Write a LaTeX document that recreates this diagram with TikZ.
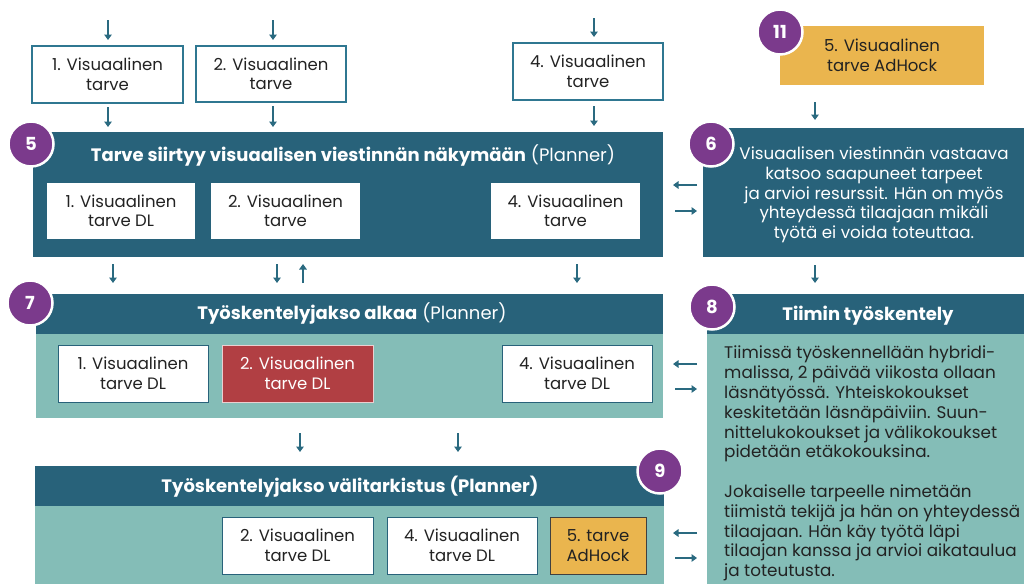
\documentclass[tikz,border=0pt]{standalone}
\usepackage{fontspec}
\setmainfont{Poppins}
\usetikzlibrary{arrows.meta,calc}
\definecolor{dteal}{HTML}{28627A}
\definecolor{lteal}{HTML}{84BDB7}
\definecolor{bpurple}{HTML}{7B3A8C}
\definecolor{bred}{HTML}{B13F43}
\definecolor{byellow}{HTML}{EAB54E}
\definecolor{txt}{HTML}{222222}
\definecolor{arrc}{HTML}{2A6A80}
\definecolor{cardline}{HTML}{2F7791}
\begin{document}
\begin{tikzpicture}[x=1pt,y=-1pt,
  arr/.style={draw=arrc, line width=1.5pt, -{Triangle[width=7.5pt,length=5.5pt]}},
  panel/.style={anchor=north west, inner sep=0pt, outer sep=0pt},
  card/.style={anchor=north west, inner sep=0pt, outer sep=0pt, align=center,
    font=\fontsize{16.5}{19.5}\selectfont, text=txt, fill=white},
  title/.style={text=white, font=\fontsize{18}{20}\selectfont, inner sep=0pt},
  badge/.style={circle, fill=bpurple, draw=white, line width=2.5pt, minimum size=45pt,
    inner sep=0pt, text=white, font=\fontsize{18}{18}\selectfont\bfseries},
  wtext/.style={text=white, align=center, font=\fontsize{16.7}{19.7}\selectfont, inner sep=0pt},
  btext/.style={text=txt, align=left, font=\fontsize{16.8}{19.8}\selectfont, inner sep=0pt}
]
\useasboundingbox (0,0) rectangle (1024,584);
\fill[white] (0,0) rectangle (1024,584);

% columns and rows
\coordinate (c1) at (108,0);
\coordinate (c2) at (273,0);
\coordinate (c3) at (594,0);
\coordinate (c4) at (815,0);
\coordinate (d1) at (113,0);
\coordinate (d2) at (277,0);
\coordinate (d3) at (303,0);
\coordinate (d4) at (577,0);
\coordinate (e1) at (300,0);
\coordinate (e2) at (458,0);
\coordinate (rA) at (0,185);
\coordinate (rB) at (0,211);
\coordinate (rC) at (0,364);
\coordinate (rD) at (0,389);
\coordinate (rE) at (0,533);
\coordinate (rF) at (0,558);
\coordinate (s1) at (108,20);
\coordinate (s2) at (273,20);
\coordinate (s3) at (594,18);

% top cards
\node[card, draw=cardline, line width=1.2pt, minimum width=151pt, minimum height=57pt] (t1) at (32,46) {1. Visuaalinen\\tarve};
\node[card, draw=cardline, line width=1.2pt, minimum width=150pt, minimum height=56pt] (t2) at (196,46) {2. Visuaalinen\\tarve};
\node[card, draw=cardline, line width=1.2pt, minimum width=150pt, minimum height=57pt] (t4) at (513,43) {4. Visuaalinen\\tarve};
\node[card, fill=byellow, minimum width=204pt, minimum height=59pt] (t5) at (780,26) {5. Visuaalinen\\tarve AdHock};

% box 5
\node[panel, fill=dteal, minimum width=630pt, minimum height=125pt] (box5) at (33,132) {};
\node[title] (h5) at (353,155) {\textbf{Tarve siirtyy visuaalisen viestinnän näkymään} (Planner)};
\node[card, minimum width=148pt, minimum height=56pt] (p1) at (47,183) {1. Visuaalinen\\tarve DL};
\node[card, minimum width=149pt, minimum height=56pt] (p2) at (211,183) {2. Visuaalinen\\tarve};
\node[card, minimum width=149pt, minimum height=56pt] (p4) at (491,183) {4. Visuaalinen\\tarve};

% box 6
\node[panel, fill=dteal, minimum width=321pt, minimum height=129pt] (box6) at (703,128) {};
\node[wtext] (x6) at (874,195) {Visuaalisen viestinnän vastaava\\katsoo saapuneet tarpeet\\ja arvioi resurssit. Hän on myös\\yhteydessä tilaajaan mikäli\\työtä ei voida toteuttaa.};

% box 7
\node[panel, fill=lteal, minimum width=627pt, minimum height=124pt] (box7) at (36,294) {};
\node[panel, fill=dteal, minimum width=627pt, minimum height=40pt] (box7h) at (36,294) {};
\node[title] (h7) at (352,313) {\textbf{Työskentelyjakso alkaa} (Planner)};
\node[card, draw=dteal, line width=1pt, minimum width=150pt, minimum height=57pt] (q1) at (58,345) {1. Visuaalinen\\tarve DL};
\node[card, fill=bred, text=white, draw=white!75!bred, line width=1pt, minimum width=151pt, minimum height=57pt] (q2) at (222,345) {2. Visuaalinen\\tarve DL};
\node[card, draw=dteal, line width=1pt, minimum width=150pt, minimum height=57pt] (q4) at (502,345) {4. Visuaalinen\\tarve DL};

% box 8
\node[panel, fill=lteal, minimum width=317pt, minimum height=290pt] (box8) at (707,294) {};
\node[panel, fill=dteal, minimum width=317pt, minimum height=40pt] (box8h) at (707,294) {};
\node[title] (h8) at (868,316) {\textbf{Tiimin työskentely}};
\node[btext, anchor=north west] (x8) at (724,346) {Tiimissä työskennellään hybridi-\\malissa, 2 päivää viikosta ollaan\\läsnätyössä. Yhteiskokoukset\\keskitetään läsnäpäiviin. Suun-\\nittelukokoukset ja välikokoukset\\pidetään etäkokouksina.\\[19.8pt]Jokaiselle tarpeelle nimetään\\tiimistä tekijä ja hän on yhteydessä\\tilaajaan. Hän käy työtä läpi\\tilaajan kanssa ja arvioi aikataulua\\ja toteutusta.};

% box 9
\node[panel, fill=lteal, minimum width=629pt, minimum height=118pt] (box9) at (35,466) {};
\node[panel, fill=dteal, minimum width=629pt, minimum height=40pt] (box9h) at (35,466) {};
\node[title] (h9) at (350,487) {\textbf{Työskentelyjakso välitarkistus (Planner)}};
\node[card, draw=dteal, line width=1pt, minimum width=151pt, minimum height=57pt] (r2) at (222,517) {2. Visuaalinen\\tarve DL};
\node[card, draw=dteal, line width=1pt, minimum width=150pt, minimum height=57pt] (r4) at (387,517) {4. Visuaalinen\\tarve DL};
\node[card, fill=byellow, draw=black!75, line width=1pt, minimum width=96pt, minimum height=57pt] (r5) at (550,517) {5. tarve\\AdHock};

% badges
\node[badge] (n5) at (31,144) {5};
\node[badge] (n6) at (711,144) {6};
\node[badge] (n7) at (30,303) {7};
\node[badge] (n8) at (712,307) {8};
\node[badge] (n9) at (660,471) {9};
\node[badge] (n11) at (780,32) {11};

% arrows: inputs
\draw[arr, shorten >=6pt] (s1) -- (t1.north -| s1);
\draw[arr, shorten >=6pt] (s2) -- (t2.north -| s2);
\draw[arr, shorten >=6pt] (s3) -- (t4.north -| s3);
% cards to box 5
\draw[arr, shorten <=4pt, shorten >=5pt] (t1.south -| c1) -- (box5.north -| c1);
\draw[arr, shorten <=4pt, shorten >=5pt] (t2.south -| c2) -- (box5.north -| c2);
\draw[arr, shorten <=6pt, shorten >=6pt] (t4.south -| c3) -- (box5.north -| c3);
% AdHock to box 6 to box 8
\draw[arr, shorten <=17pt, shorten >=8pt] (t5.south -| c4) -- (box6.north -| c4);
\draw[arr, shorten <=8pt, shorten >=11pt] (box6.south -| c4) -- (box8.north -| c4);
% box 5 <-> box 6
\draw[arr, shorten <=6pt, shorten >=10pt] (box6.west |- rA) -- (box5.east |- rA);
\draw[arr, shorten <=12pt, shorten >=6pt] (box5.east |- rB) -- (box6.west |- rB);
% box 5 -> box 7
\draw[arr, shorten <=7pt, shorten >=11pt] (box5.south -| d1) -- (box7.north -| d1);
\draw[arr, shorten <=7pt, shorten >=11pt] (box5.south -| d2) -- (box7.north -| d2);
\draw[arr, shorten <=11pt, shorten >=7pt] (box7.north -| d3) -- (box5.south -| d3);
\draw[arr, shorten <=7pt, shorten >=11pt] (box5.south -| d4) -- (box7.north -| d4);
% box 7 <-> box 8
\draw[arr, shorten <=10pt, shorten >=10pt] (box8.west |- rC) -- (box7.east |- rC);
\draw[arr, shorten <=12pt, shorten >=10pt] (box7.east |- rD) -- (box8.west |- rD);
% box 7 -> box 9
\draw[arr, shorten <=15pt, shorten >=14pt] (box7.south -| e1) -- (box9.north -| e1);
\draw[arr, shorten <=15pt, shorten >=14pt] (box7.south -| e2) -- (box9.north -| e2);
% box 9 <-> box 8
\draw[arr, shorten <=10pt, shorten >=9pt] (box8.west |- rE) -- (box9.east |- rE);
\draw[arr, shorten <=11pt, shorten >=10pt] (box9.east |- rF) -- (box8.west |- rF);
\end{tikzpicture}
\end{document}
